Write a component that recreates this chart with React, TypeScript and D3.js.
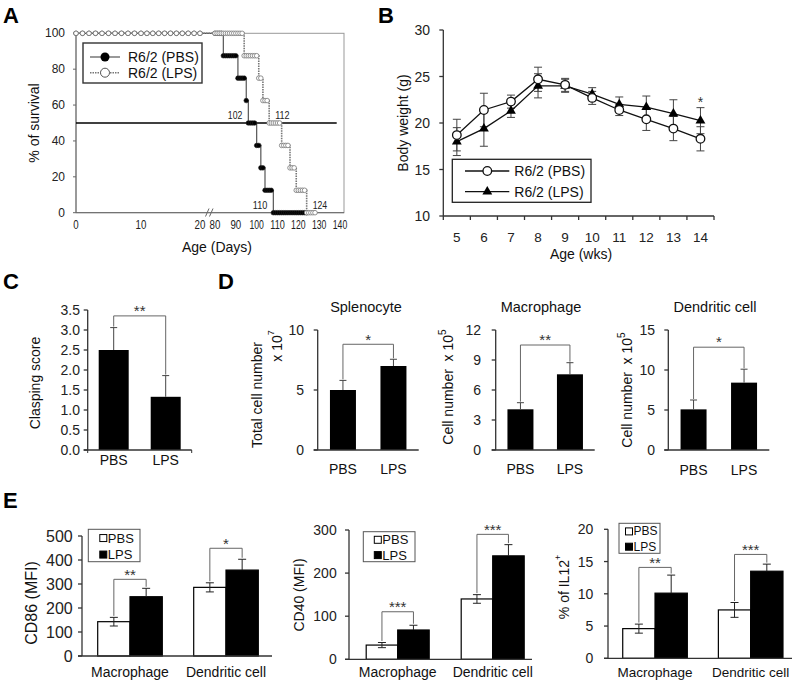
import React from 'react';
import * as d3 from 'd3';

const FONT = "'Liberation Sans', Arial, Helvetica, sans-serif";

// ---------- Panel A: survival ----------
const survPbsDays = [0, 84, 91, 95, 96, 100, 102, 104, 108];
const survPbsPct = [100, 87.5, 75, 62.5, 50, 37.5, 25, 12.5, 0];
const survPbsEnd = 124;
const survLpsDays = [0, 94, 101, 103, 106, 112, 116, 119, 124];
const survLpsPct = [100, 87.5, 75, 62.5, 50, 37.5, 25, 12.5, 0];
const survLpsEnd = 128;
const survYTicks = [0, 20, 40, 60, 80, 100];
const survXTicks = [0, 10, 20, 80, 90, 100, 110, 120, 130, 140];
const survSeries = ['R6/2 (PBS)', 'R6/2 (LPS)'];

// ---------- Panel B: body weight ----------
const weeks = [5, 6, 7, 8, 9, 10, 11, 12, 13, 14];
const bwPbs = [18.7, 21.4, 22.3, 24.7, 24.1, 22.7, 21.4, 20.4, 19.4, 18.3];
const bwPbsErr = [1.7, 1.8, 0.7, 1.3, 0.7, 0.7, 0.6, 1.2, 1.3, 1.3];
const bwLps = [18.0, 19.4, 21.3, 24.0, 24.0, 23.1, 22.0, 21.7, 21.0, 20.25];
const bwLpsErr = [1.5, 1.9, 0.7, 1.3, 0.7, 0.7, 0.8, 1.2, 1.5, 1.4];
const bwYTicks = [10, 15, 20, 25, 30];

// ---------- Panel C ----------
const treat = ['PBS', 'LPS'];
const clasp = [2.5, 1.33];
const claspErr = [0.56, 0.53];
const claspTicks = [0, 0.5, 1, 1.5, 2, 2.5, 3, 3.5];

// ---------- Panel D ----------
const spleno = [5.0, 7.0];
const splenoErr = [0.8, 0.56];
const splenoTicks = [0, 5, 10];
const macroD = [4.07, 7.57];
const macroDErr = [0.66, 1.16];
const macroDTicks = [0, 3, 6, 9, 12];
const dcD = [5.08, 8.42];
const dcDErr = [1.17, 1.68];
const dcDTicks = [0, 5, 10, 15];

// ---------- Panel E ----------
const cellGroups = ['Macrophage', 'Dendritic cell'];
const cd86Pbs = [143, 286];
const cd86PbsErr = [18, 19];
const cd86Lps = [247, 358];
const cd86LpsErr = [35, 45];
const cd86Ticks = [0, 100, 200, 300, 400, 500];
const cd86Sig = ['**', '*'];
const cd40Pbs = [33, 140];
const cd40PbsErr = [6, 10];
const cd40Lps = [68, 240];
const cd40LpsErr = [11, 26];
const cd40Ticks = [0, 100, 200, 300];
const cd40Sig = ['***', '***'];
const il12Pbs = [4.6, 7.5];
const il12PbsErr = [0.7, 1.15];
const il12Lps = [10.1, 13.5];
const il12LpsErr = [2.8, 1.1];
const il12Ticks = [0, 5, 10, 15, 20];
const il12Sig = ['**', '***'];

const AXIS = '#333';

function Stars({ x, y, text, size = 15 }: any) {
  return (
    <text x={x} y={y + size * 0.55} textAnchor="middle" fontSize={size} fill="#333">
      {text}
    </text>
  );
}

function Bracket({ x1, x2, yTop, yL, yR, stars, starSize = 15 }: any) {
  return (
    <g>
      <path d={`M${x1},${yL}V${yTop}H${x2}V${yR}`} fill="none" stroke="#666" strokeWidth={1} />
      <Stars x={(x1 + x2) / 2} y={yTop - 8} text={stars} size={starSize} />
    </g>
  );
}

function RotLabel({ x, y, size, children }: any) {
  return (
    <text
      transform={`translate(${x},${y}) rotate(-90)`}
      textAnchor="middle"
      dominantBaseline="central"
      fontSize={size}
      fill="#111"
    >
      {children}
    </text>
  );
}

function PanelLetter({ x, y, t }: any) {
  return (
    <text x={x} y={y} fontSize={22} fontWeight="bold" fill="#000">
      {t}
    </text>
  );
}

// condensed number label (the original uses a narrow face for these)
function NarrowNum({ x, y, v, anchor = 'middle', size = 12 }: any) {
  const s = String(v);
  const len = s.length >= 3 ? 14.5 : s.length * 5.4;
  return (
    <text
      x={x}
      y={y}
      textAnchor={anchor}
      dominantBaseline="central"
      fontSize={size}
      fill="#222"
      textLength={len}
      lengthAdjust="spacingAndGlyphs"
    >
      {s}
    </text>
  );
}

// ---------------- Panel A ----------------
function PanelA() {
  const x = d3.scaleLinear().domain([0, 10, 20, 80, 140]).range([76, 141, 200, 215, 340]);
  const y = d3.scaleLinear().domain([0, 100]).range([212.7, 33.3]);
  const line = d3
    .line<[number, number]>()
    .x((d) => x(d[0]))
    .y((d) => y(d[1]))
    .curve(d3.curveStepAfter);
  const stepPts = (days: number[], pcts: number[], end: number): [number, number][] => [
    ...days.map((d, i) => [d, pcts[i]] as [number, number]),
    [end, pcts[pcts.length - 1]],
  ];
  const markers = (days: number[], pcts: number[], end: number) => {
    const pts: [number, number][] = [];
    for (let i = 0; i < days.length; i++) {
      const s = days[i];
      const e = i < days.length - 1 ? days[i + 1] : end + 1;
      for (let d = Math.ceil(s); d < e; d++) {
        if (d > 20 && d < 80) continue;
        pts.push([d, pcts[i]]);
      }
    }
    return pts;
  };
  const pbsPts = stepPts(survPbsDays, survPbsPct, survPbsEnd);
  const lpsPts = stepPts(survLpsDays, survLpsPct, survLpsEnd);
  const pbsM = markers(survPbsDays, survPbsPct, survPbsEnd);
  const lpsM = markers(survLpsDays, survLpsPct, survLpsEnd);
  const pbsMed = survPbsDays[survPbsPct.indexOf(50)];
  const lpsMed = survLpsDays[survLpsPct.indexOf(50)];
  const pbsZero = survPbsDays[survPbsPct.indexOf(0)];
  const lpsZero = survLpsDays[survLpsPct.indexOf(0)];
  const x0 = x(0), x1 = 344;
  return (
    <g>
      <PanelLetter x={3} y={23} t="A" />
      <rect x={x0} y={y(100)} width={x1 - x0} height={y(0) - y(100)} fill="none" stroke="#999" strokeWidth={1} />
      <line x1={x0} x2={x0} y1={y(100)} y2={y(0)} stroke="#666" />
      <line x1={x0} x2={x1} y1={y(0)} y2={y(0)} stroke="#666" />
      {survYTicks.map((t) => (
        <g key={t}>
          <line x1={x0 - 3} x2={x0} y1={y(t)} y2={y(t)} stroke="#666" />
          <text x={65} y={y(t)} textAnchor="end" dominantBaseline="central" fontSize={12} fill="#222">
            {t}
          </text>
        </g>
      ))}
      {survXTicks.map((t) => (
        <NarrowNum key={t} x={x(t)} y={225} v={t} />
      ))}
      <path d="M205.5,216.5L209,208.5M209.5,216.5L213,208.5" stroke="#666" strokeWidth={1} fill="none" />
      <text x={217} y={247} textAnchor="middle" dominantBaseline="central" fontSize={14} fill="#111">
        Age (Days)
      </text>
      <RotLabel x={34} y={123} size={14}>% of survival</RotLabel>
      {/* 50% line */}
      <line x1={x0} x2={336.7} y1={y(50)} y2={y(50)} stroke="#000" strokeWidth={1.5} />
      {/* PBS */}
      <path d={line(pbsPts) || ''} fill="none" stroke="#555" strokeWidth={1.2} />
      {pbsM.map((p, i) => (
        <circle key={'p' + i} cx={x(p[0])} cy={y(p[1])} r={2.3} fill="#000" stroke="#222" strokeWidth={0.6} />
      ))}
      {/* LPS */}
      <path d={line(lpsPts) || ''} fill="none" stroke="#777" strokeWidth={1.6} strokeDasharray="1.5,1" />
      {lpsM.map((p, i) => (
        <circle key={'l' + i} cx={x(p[0])} cy={y(p[1])} r={2.3} fill="#fff" stroke="#777" strokeWidth={0.8} />
      ))}
      <NarrowNum x={x(pbsMed) - 6} y={y(50) - 8} v="102" anchor="end" size={11.5} />
      <NarrowNum x={x(lpsMed) + 6} y={y(50) - 8} v="112" anchor="start" size={11.5} />
      <NarrowNum x={x(pbsZero) - 6} y={y(0) - 8} v="110" anchor="end" size={11.5} />
      <NarrowNum x={x(lpsZero) + 6} y={y(0) - 8} v="124" anchor="start" size={11.5} />
      {/* legend */}
      <rect x={83} y={43} width={119} height={40} fill="#fff" stroke="#333" strokeWidth={1.4} />
      <line x1={90} x2={120} y1={57} y2={57} stroke="#555" strokeWidth={1.2} />
      <circle cx={105} cy={57} r={4.5} fill="#000" />
      <text x={128} y={57} dominantBaseline="central" fontSize={14} fill="#111">
        {survSeries[0]}
      </text>
      <line x1={90} x2={120} y1={72.7} y2={72.7} stroke="#777" strokeWidth={1.6} strokeDasharray="1.5,1" />
      <circle cx={105} cy={72.7} r={4.5} fill="#fff" stroke="#555" strokeWidth={1} />
      <text x={128} y={72.7} dominantBaseline="central" fontSize={14} fill="#111">
        {survSeries[1]}
      </text>
    </g>
  );
}

// ---------------- Panel B ----------------
function PanelB() {
  const x = d3.scaleBand<number>().domain(weeks).range([443.3, 714]);
  const cx = (w: number) => (x(w) as number) + x.bandwidth() / 2;
  const y = d3.scaleLinear().domain([10, 30]).range([216, 30]);
  const line = d3
    .line<number>()
    .x((_, i) => cx(weeks[i]))
    .y((d) => y(d));
  const tri = d3.symbol(d3.symbolTriangle, 42)() || '';
  const err = (vals: number[], errs: number[], key: string) =>
    vals.map((v, i) => {
      const X = cx(weeks[i]);
      const t = y(v + errs[i]);
      const b = y(v - errs[i]);
      return (
        <path
          key={key + i}
          d={`M${X},${t}V${b}M${X - 4},${t}H${X + 4}M${X - 4},${b}H${X + 4}`}
          stroke="#444"
          strokeWidth={1}
          fill="none"
        />
      );
    });
  const xAxisTicks = [...weeks.map((w) => x(w) as number), 714];
  return (
    <g>
      <PanelLetter x={378} y={23} t="B" />
      <line x1={443.3} x2={443.3} y1={30} y2={216} stroke={AXIS} strokeWidth={1.3} />
      <line x1={443.3} x2={714} y1={216} y2={216} stroke={AXIS} strokeWidth={1.3} />
      {bwYTicks.map((t) => (
        <g key={t}>
          <line x1={439.3} x2={443.3} y1={y(t)} y2={y(t)} stroke={AXIS} strokeWidth={1.3} />
          <text x={430} y={y(t)} textAnchor="end" dominantBaseline="central" fontSize={14} fill="#222">
            {t}
          </text>
        </g>
      ))}
      {xAxisTicks.map((t, i) => (
        <line key={i} x1={t} x2={t} y1={216} y2={220} stroke={AXIS} strokeWidth={1.3} />
      ))}
      {weeks.map((w) => (
        <text key={w} x={cx(w)} y={237} textAnchor="middle" dominantBaseline="central" fontSize={13.5} fill="#222">
          {w}
        </text>
      ))}
      <text x={581} y={254} textAnchor="middle" dominantBaseline="central" fontSize={14} fill="#111">
        Age (wks)
      </text>
      <RotLabel x={403} y={123} size={14}>Body weight (g)</RotLabel>
      {err(bwPbs, bwPbsErr, 'ep')}
      {err(bwLps, bwLpsErr, 'el')}
      <path d={line(bwPbs) || ''} fill="none" stroke="#111" strokeWidth={1.3} />
      <path d={line(bwLps) || ''} fill="none" stroke="#111" strokeWidth={1.3} />
      {bwLps.map((v, i) => (
        <path key={'t' + i} d={tri} transform={`translate(${cx(weeks[i])},${y(v)})`} fill="#000" />
      ))}
      {bwPbs.map((v, i) => (
        <circle key={'c' + i} cx={cx(weeks[i])} cy={y(v)} r={4.3} fill="#fff" stroke="#111" strokeWidth={1.3} />
      ))}
      <Stars x={cx(14)} y={y(bwLps[9] + bwLpsErr[9]) - 8.5} text="*" size={14} />
      {/* legend */}
      <rect x={452.3} y={159.3} width={138.7} height={43} fill="#fff" stroke="#222" strokeWidth={1.3} />
      <line x1={465} x2={509.3} y1={171} y2={171} stroke="#111" strokeWidth={1.3} />
      <circle cx={487.3} cy={171} r={4.3} fill="#fff" stroke="#111" strokeWidth={1.3} />
      <text x={514.3} y={171} dominantBaseline="central" fontSize={14} fill="#111">
        {survSeries[0]}
      </text>
      <line x1={465} x2={509.3} y1={191.7} y2={191.7} stroke="#111" strokeWidth={1.3} />
      <path d={tri} transform={`translate(487.3,191.7)`} fill="#000" />
      <text x={514.3} y={191.7} dominantBaseline="central" fontSize={14} fill="#111">
        {survSeries[1]}
      </text>
    </g>
  );
}

// ---------------- simple 2-bar panels (C, D) ----------------
function SimpleBars({ c }: any) {
  const y = d3.scaleLinear().domain([0, c.max]).range([c.yBottom, c.yTop]);
  const x = d3.scaleBand<string>().domain(treat).range([c.axisX, c.axisEnd]);
  const cx = (k: string) => (x(k) as number) + x.bandwidth() / 2;
  const tops = c.values.map((v: number, i: number) => y(v + c.errs[i]));
  const bTop = Math.min(...tops) - c.bracketGap;
  return (
    <g>
      {c.title && (
        <text x={c.titleX} y={307} textAnchor="middle" dominantBaseline="central" fontSize={14.5} fill="#111">
          {c.title}
        </text>
      )}
      {c.values.map((v: number, i: number) => {
        const X = cx(treat[i]);
        return (
          <g key={i}>
            <rect x={X - c.barW / 2} y={y(v)} width={c.barW} height={c.yBottom - y(v)} fill="#000" />
            <path
              d={`M${X},${y(v)}V${tops[i]}M${X - 3.5},${tops[i]}H${X + 3.5}`}
              stroke="#444"
              strokeWidth={1}
              fill="none"
            />
          </g>
        );
      })}
      <line x1={c.axisX} x2={c.axisX} y1={c.yTop} y2={c.yBottom} stroke={AXIS} strokeWidth={1.3} />
      <line x1={c.axisX - 4} x2={c.axisEnd} y1={c.yBottom} y2={c.yBottom} stroke={AXIS} strokeWidth={1.3} />
      {c.endTicks && (
        <>
          <line x1={c.axisX} x2={c.axisX} y1={c.yBottom} y2={c.yBottom + 3} stroke={AXIS} />
          <line x1={c.axisEnd} x2={c.axisEnd} y1={c.yBottom} y2={c.yBottom + 3} stroke={AXIS} />
        </>
      )}
      {c.ticks.map((t: number) => (
        <g key={t}>
          <line x1={c.axisX - 4} x2={c.axisX} y1={y(t)} y2={y(t)} stroke={AXIS} strokeWidth={1.3} />
          <text
            x={c.tickLabelX}
            y={y(t)}
            textAnchor="end"
            dominantBaseline="central"
            fontSize={14}
            fill="#222"
          >
            {c.decimals ? t.toFixed(c.decimals) : t}
          </text>
        </g>
      ))}
      {treat.map((k) => (
        <text key={k} x={cx(k)} y={c.xLabelY} textAnchor="middle" dominantBaseline="central" fontSize={14} fill="#111">
          {k}
        </text>
      ))}
      <Bracket x1={cx(treat[0])} x2={cx(treat[1])} yTop={bTop} yL={tops[0] - 1} yR={tops[1] - 1} stars={c.sig} />
    </g>
  );
}

function PanelC() {
  const c = {
    axisX: 87.7, axisEnd: 191.7, yBottom: 450, yTop: 310, max: 3.5, ticks: claspTicks, decimals: 1,
    values: clasp, errs: claspErr, sig: '**', bracketGap: 11.7, barW: 30, tickLabelX: 80, xLabelY: 460, endTicks: true,
  };
  return (
    <g>
      <PanelLetter x={3} y={289} t="C" />
      <SimpleBars c={c} />
      <RotLabel x={35} y={383} size={14}>Clasping score</RotLabel>
    </g>
  );
}

function PanelD() {
  const s = {
    title: 'Splenocyte', titleX: 366, axisX: 317.7, axisEnd: 418.7, yBottom: 450, yTop: 330, max: 10, ticks: splenoTicks,
    values: spleno, errs: splenoErr, sig: '*', bracketGap: 15, barW: 26, tickLabelX: 304, xLabelY: 469,
  };
  const m = {
    title: 'Macrophage', titleX: 541, axisX: 495.7, axisEnd: 594.7, yBottom: 450, yTop: 330, max: 12, ticks: macroDTicks,
    values: macroD, errs: macroDErr, sig: '**', bracketGap: 17.7, barW: 26, tickLabelX: 481, xLabelY: 469,
  };
  const d = {
    title: 'Dendritic cell', titleX: 715, axisX: 668.3, axisEnd: 769.3, yBottom: 450, yTop: 330, max: 15, ticks: dcDTicks,
    values: dcD, errs: dcDErr, sig: '*', bracketGap: 22, barW: 26, tickLabelX: 655, xLabelY: 470,
  };
  return (
    <g>
      <PanelLetter x={218} y={289} t="D" />
      <SimpleBars c={s} />
      <SimpleBars c={m} />
      <SimpleBars c={d} />
      <RotLabel x={256.7} y={395} size={14}>Total cell number</RotLabel>
      <RotLabel x={276.7} y={346} size={14}>
        x 10<tspan fontSize={9} dy={-6}>7</tspan>
      </RotLabel>
      <RotLabel x={448} y={387} size={14}>
        Cell number {'\u00a0'}x 10<tspan fontSize={10} dy={-6}>5</tspan>
      </RotLabel>
      <RotLabel x={626.7} y={390} size={14}>
        Cell number {'\u00a0'}x 10<tspan fontSize={10} dy={-6}>5</tspan>
      </RotLabel>
    </g>
  );
}

// ---------------- grouped bars (E) ----------------
function GroupBars({ c }: any) {
  const y = d3.scaleLinear().domain([0, c.max]).range([c.yBottom, c.yTop]);
  const g = d3.scaleBand<string>().domain(cellGroups).range(c.groupRange);
  const gc = (k: string) => (g(k) as number) + g.bandwidth() / 2;
  const w = c.barW;
  return (
    <g>
      {cellGroups.map((k, i) => {
        const C = gc(k);
        const xp = C - w / 2;
        const xl = C + w / 2;
        const pT = y(c.pbs[i] + c.pbsErr[i]);
        const pB = y(c.pbs[i] - c.pbsErr[i]);
        const lT = y(c.lps[i] + c.lpsErr[i]);
        const bTop = Math.min(pT, lT) - c.gaps[i];
        return (
          <g key={k}>
            <rect x={C - w} y={y(c.pbs[i])} width={w} height={c.yBottom - y(c.pbs[i])} fill="#fff" stroke="#000" strokeWidth={1.2} />
            <rect x={C} y={y(c.lps[i])} width={w} height={c.yBottom - y(c.lps[i])} fill="#000" stroke="#000" strokeWidth={1.2} />
            <path d={`M${xp},${pT}V${pB}M${xp - 4},${pT}H${xp + 4}M${xp - 4},${pB}H${xp + 4}`} stroke="#222" strokeWidth={1} fill="none" />
            <path d={`M${xl},${lT}V${y(c.lps[i])}M${xl - 4},${lT}H${xl + 4}`} stroke="#222" strokeWidth={1} fill="none" />
            <Bracket x1={xp} x2={xl} yTop={bTop} yL={pT - 1.5} yR={lT - 1.5} stars={c.sig[i]} starSize={15} />
            <text x={C} y={672} textAnchor="middle" dominantBaseline="central" fontSize={c.xFont} fill="#111">
              {k}
            </text>
          </g>
        );
      })}
      <line x1={c.axisX} x2={c.axisX} y1={c.yTop} y2={c.yBottom} stroke={AXIS} strokeWidth={1.3} />
      <line x1={c.axisX - 4} x2={c.axisEnd} y1={c.yBottom} y2={c.yBottom} stroke={AXIS} strokeWidth={1.3} />
      {c.ticks.map((t: number) => (
        <g key={t}>
          <line x1={c.axisX - 4} x2={c.axisX} y1={y(t)} y2={y(t)} stroke={AXIS} strokeWidth={1.3} />
          <text x={c.tickLabelX} y={y(t)} textAnchor="end" dominantBaseline="central" fontSize={c.tickFont} fill="#222">
            {t}
          </text>
        </g>
      ))}
      <rect x={c.leg.x} y={c.leg.y} width={c.leg.w} height={c.leg.h} fill="#fff" stroke="#555" strokeWidth={1} />
      {treat.map((k, i) => {
        const ry = c.leg.y + c.leg.h * (i === 0 ? 0.27 : 0.78);
        return (
          <g key={k}>
            <rect x={c.leg.x + c.leg.sq} y={ry - 3.5} width={7} height={7} fill={i === 0 ? '#fff' : '#000'} stroke="#000" strokeWidth={1} />
            <text x={c.leg.x + c.leg.sq + 8} y={ry} dominantBaseline="central" fontSize={c.legFont} fill="#111">
              {k}
            </text>
          </g>
        );
      })}
    </g>
  );
}

function PanelE() {
  const e1 = {
    axisX: 82, axisEnd: 272, yBottom: 656, yTop: 536, max: 500, ticks: cd86Ticks, tickFont: 16, tickLabelX: 72.7,
    groupRange: [82, 274], barW: 32.3, pbs: cd86Pbs, pbsErr: cd86PbsErr, lps: cd86Lps, lpsErr: cd86LpsErr, sig: cd86Sig,
    gaps: [9, 11], xFont: 14, leg: { x: 88.3, y: 529.3, w: 51.7, h: 32.4, sq: 11.5 }, legFont: 13,
  };
  const e2 = {
    axisX: 349, axisEnd: 532, yBottom: 659.3, yTop: 530, max: 300, ticks: cd40Ticks, tickFont: 14, tickLabelX: 336.7,
    groupRange: [350.2, 540.2], barW: 31.5, pbs: cd40Pbs, pbsErr: cd40PbsErr, lps: cd40Lps, lpsErr: cd40LpsErr, sig: cd40Sig,
    gaps: [13.5, 10.3], xFont: 14, leg: { x: 363.3, y: 531.7, w: 51.7, h: 30, sq: 11 }, legFont: 13,
  };
  const e3 = {
    axisX: 608, axisEnd: 792, yBottom: 658.3, yTop: 529.3, max: 20, ticks: il12Ticks, tickFont: 14, tickLabelX: 593.3,
    groupRange: [607.2, 798.5], barW: 32.3, pbs: il12Pbs, pbsErr: il12PbsErr, lps: il12Lps, lpsErr: il12LpsErr, sig: il12Sig,
    gaps: [7.7, 9.7], xFont: 13.5, leg: { x: 619, y: 523.3, w: 41, h: 30, sq: 6.5 }, legFont: 12,
  };
  return (
    <g>
      <PanelLetter x={3} y={508} t="E" />
      <GroupBars c={e1} />
      <GroupBars c={e2} />
      <GroupBars c={e3} />
      <RotLabel x={31.7} y={603} size={16}>CD86 (MFI)</RotLabel>
      <RotLabel x={299.3} y={595} size={14}>CD40 (MFI)</RotLabel>
      <RotLabel x={564} y={587} size={14}>
        % of IL12<tspan fontSize={9} dy={-6}>+</tspan>
      </RotLabel>
    </g>
  );
}

export default function App() {
  return (
    <svg
      width={800}
      height={682}
      viewBox="0 0 800 682"
      style={{ display: 'block', position: 'absolute', left: 0, top: 0 }}
      fontFamily={FONT}
    >
      <rect width={800} height={682} fill="#fff" />
      <PanelA />
      <PanelB />
      <PanelC />
      <PanelD />
      <PanelE />
    </svg>
  );
}
